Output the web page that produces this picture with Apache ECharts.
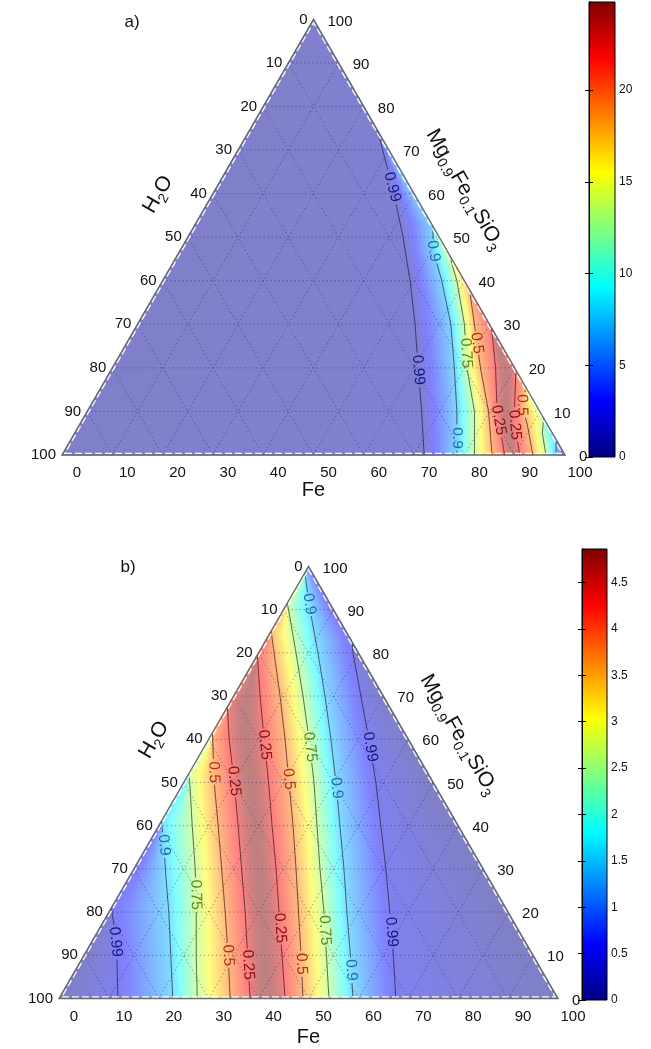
<!DOCTYPE html>
<html>
<head>
<meta charset="utf-8">
<title>Ternary contour maps</title>
<script src="https://cdn.jsdelivr.net/npm/echarts@6.0.0/dist/echarts.min.js"></script>
<style>
  html, body { margin: 0; padding: 0; background: #ffffff; }
  #chart { width: 651px; height: 1049px; }
</style>
</head>
<body>
<div id="chart"></div>
<script>
// ---------------- data ----------------
// ternary axis ticks in %, used on all three sides
const TERN_TICKS = [0, 10, 20, 30, 40, 50, 60, 70, 80, 90, 100];

// panel a) contour lines, points as [Fe %, Mg0.9Fe0.1SiO3 %]
const A_099  = [[72, 0], [66.5, 10], [60.8, 20], [55.2, 30], [49.2, 40], [42.8, 50], [36, 60], [30.2, 68], [25.5, 74.5]];
const A_090L = [[78.5, 0], [73.5, 10], [68, 20], [62.3, 30], [55.5, 40], [50.3, 47], [47.5, 52.5]];
const A_075L = [[82, 0], [77, 10], [70.5, 20], [65, 30], [58.5, 40], [54, 46]];
const A_050L = [[85.5, 0], [79.8, 10], [73.2, 20], [67, 30], [62, 38]];
const A_025L = [[88, 0], [81.5, 10], [76.2, 20], [70.8, 29.2]];
const A_025R = [[91, 0], [86.5, 7], [84, 12], [80.5, 19.5]];
const A_050R = [[93.6, 0], [89, 7], [85.7, 11.5], [84.5, 15.5]];
const A_075R = [[96.2, 0], [93, 5], [91.5, 8.5]];
const A_090R = [[98.2, 0], [96.5, 3.5]];

// panel b) contour lines, points as [Fe %, Mg0.9Fe0.1SiO3 %]
const B_099L = [[11.8, 0], [6.6, 10], [2.5, 17], [0, 21]];
const B_090L = [[22.8, 0], [17.4, 10], [12, 20], [6.3, 30], [3.3, 35.5], [0, 41]];
const B_075L = [[27.7, 0], [22.5, 10], [17.5, 20], [12.3, 30], [6.7, 40], [1.2, 50], [0, 52]];
const B_050L = [[34.3, 0], [28.9, 10], [23.3, 20], [17.6, 30], [11.9, 40], [6.1, 50], [0.8, 60], [0, 61.5]];
const B_025L = [[38.3, 0], [32.8, 10], [27.3, 20], [21.6, 30], [15.9, 40], [10.1, 50], [4.1, 60], [0, 67.5]];
const B_025R = [[45.3, 0], [39.7, 10], [34.1, 20], [28.5, 30], [22.7, 40], [17, 50], [11.1, 60], [5.3, 70], [0, 79.5]];
const B_050R = [[48.9, 0], [43.5, 10], [38, 20], [32.5, 30], [26.9, 40], [21.1, 50], [15.3, 60], [9.3, 70], [3.1, 80], [0, 85]];
const B_075R = [[54.1, 0], [48.6, 10], [43.1, 20], [37.3, 30], [31.7, 40], [26.1, 50], [20.1, 60], [13.9, 70], [7.5, 80], [1, 90], [0, 91.5]];
const B_090R = [[58.9, 0], [53.4, 10], [47.7, 20], [42.1, 30], [36.3, 40], [30.5, 50], [24.5, 60], [18.3, 70], [11.9, 80], [5.3, 90], [0, 98.5]];
const B_099R = [[67.5, 0], [62, 10], [56.3, 20], [50.5, 30], [44.5, 40], [38.5, 50], [32.1, 60], [25.5, 70], [18.9, 80], [17.5, 82.5]];

// colour-scale value: far field, on the 0.99 / 0.9 / 0.75 / 0.5 / 0.25 contours, on the ridge
const A_SHADE = [0.5, 0.9, 7.2, 13.2, 18.8, 21.8, 24.7];
const B_SHADE = [0.05, 0.45, 1.5, 2.6, 3.7, 4.3, 4.85];

// colour bars
const A_BAR_MAX = 24.8;
const A_BAR_STEP = 5;
const B_BAR_MAX = 4.86;
const B_BAR_STEP = 0.5;

// ---------------- drawing ----------------
const SQ = Math.sqrt(3) / 2;
const FONT = '"Liberation Sans", Arial, Helvetica, sans-serif';
const TICK_FS = 15;
const CLABEL_FS = 15.5;
const TITLE_FS = 20;

const LINE_COL = { '0.99': '#262652', '0.9': '#22404f', '0.75': '#3b4222', '0.5': '#4e2a1e', '0.25': '#4a2020' };
const CLABEL_COL = { '0.99': '#14148a', '0.9': '#1874aa', '0.75': '#64881a', '0.5': '#b5320f', '0.25': '#8c0f0f' };

// contour lines in drawing order, with the positions (Mg %) of their inline labels
const A_LINES = [
  { pts: A_099, level: 0.99, at: [19.5, 61.5] },
  { pts: A_090L, level: 0.9, at: [3.9, 46.8] },
  { pts: A_075L, level: 0.75, at: [23.4] },
  { pts: A_050L, level: 0.5, at: [25.7] },
  { pts: A_025L, level: 0.25, at: [8] },
  { pts: A_025R, level: 0.25, at: [6.9] },
  { pts: A_050R, level: 0.5, at: [11.5] },
  { pts: A_075R, level: 0.75, at: [] },
  { pts: A_090R, level: 0.9, at: [] }
];
const B_LINES = [
  { pts: B_099L, level: 0.99, at: [13.1] },
  { pts: B_090L, level: 0.9, at: [35.5] },
  { pts: B_075L, level: 0.75, at: [24] },
  { pts: B_050L, level: 0.5, at: [10, 52.4] },
  { pts: B_025L, level: 0.25, at: [7.8, 50.3] },
  { pts: B_025R, level: 0.25, at: [16.3, 58.7] },
  { pts: B_050R, level: 0.5, at: [8, 50.8] },
  { pts: B_075R, level: 0.75, at: [15.8, 58.2] },
  { pts: B_090R, level: 0.9, at: [6.6, 48.7, 91.3] },
  { pts: B_099R, level: 0.99, at: [15.4, 58.2] }
];

// shading boundaries from the H2O edge to the Fe edge; v = index into the shade array
const A_BOUNDS = [
  { side: 'L', v: 0 },
  { pts: A_099, exit: 'R', v: 1 }, { pts: A_090L, exit: 'R', v: 2 }, { pts: A_075L, exit: 'R', v: 3 },
  { pts: A_050L, exit: 'R', v: 4 }, { pts: A_025L, exit: 'R', v: 5 }, { pts: A_025R, exit: 'R', v: 5 },
  { pts: A_050R, exit: 'R', v: 4 }, { pts: A_075R, exit: 'R', v: 3 }, { pts: A_090R, exit: 'R', v: 2 },
  { side: 'R', v: 0 }
];
const B_BOUNDS = [
  { side: 'L', v: 0 },
  { pts: B_099L, exit: 'L', v: 1 }, { pts: B_090L, exit: 'L', v: 2 }, { pts: B_075L, exit: 'L', v: 3 },
  { pts: B_050L, exit: 'L', v: 4 }, { pts: B_025L, exit: 'L', v: 5 }, { pts: B_025R, exit: 'L', v: 5 },
  { pts: B_050R, exit: 'L', v: 4 }, { pts: B_075R, exit: 'L', v: 3 }, { pts: B_090R, exit: 'L', v: 2 },
  { pts: B_099R, exit: 'R', v: 1 },
  { side: 'R', v: 0 }
];

const measureCtx = document.createElement('canvas').getContext('2d');
function textWidth(str, size) {
  measureCtx.font = size + 'px ' + FONT;
  return measureCtx.measureText(str).width;
}

function jet(t) {
  t = Math.max(0, Math.min(1, t));
  const c = x => Math.max(0, Math.min(1, x));
  return [c(Math.min(4 * t - 1.5, -4 * t + 4.5)), c(Math.min(4 * t - 0.5, -4 * t + 3.5)), c(Math.min(4 * t + 0.5, -4 * t + 2.5))];
}
// colour laid over white with the given opacity
function rgb(col, a) {
  const m = v => Math.round(255 * (v * a + (1 - a)));
  return 'rgb(' + m(col[0]) + ',' + m(col[1]) + ',' + m(col[2]) + ')';
}

// ternary point -> pixel, through the cartesian axes of the panel
function projector(api) {
  return (fe, mg) => api.coord([fe + mg / 2, mg * SQ]);
}

function feOnLine(pts, mg) {
  for (let i = 0; i < pts.length - 1; i++) {
    const p = pts[i], q = pts[i + 1];
    if (mg >= p[1] && mg <= q[1]) {
      const t = q[1] === p[1] ? 0 : (mg - p[1]) / (q[1] - p[1]);
      return p[0] + t * (q[0] - p[0]);
    }
  }
  return null;
}

function boundaryFe(b, mg) {
  const top = 100 - mg;
  if (b.side === 'L') return 0;
  if (b.side === 'R') return top;
  const fe = feOnLine(b.pts, mg);
  if (fe === null) return b.exit === 'L' ? 0 : top;
  return Math.max(0, Math.min(top, fe));
}

function foot(p, a, b) {
  const dx = b[0] - a[0], dy = b[1] - a[1];
  const L = dx * dx + dy * dy;
  if (L < 1e-9) return a;
  const s = ((p[0] - a[0]) * dx + (p[1] - a[1]) * dy) / L;
  return [a[0] + s * dx, a[1] + s * dy];
}
function area2(a, b, c) {
  return Math.abs((b[0] - a[0]) * (c[1] - a[1]) - (b[1] - a[1]) * (c[0] - a[0]));
}

function bandStops(v0, v1, peak, vmax) {
  const out = [];
  for (let i = 0; i <= 10; i++) {
    const t = i / 10;
    const v = peak == null ? v0 + (v1 - v0) * t : v0 + (peak - v0) * (1 - Math.pow(2 * t - 1, 2));
    out.push({ offset: t, color: rgb(jet(v / vmax), 0.5) });
  }
  return out;
}

// shaded field: strips between neighbouring contours, split into triangles with linear gradients
function fieldRenderer(bounds, shade, vmax) {
  return function (params, api) {
    const P = projector(api);
    const rows = [];
    for (let mg = 0; mg <= 100; mg += 1) {
      const fes = bounds.map(b => boundaryFe(b, mg));
      for (let j = 1; j < fes.length; j++) if (fes[j] < fes[j - 1]) fes[j] = fes[j - 1];
      rows.push(fes.map(fe => P(fe, mg)));
    }
    const stops = [];
    for (let j = 0; j < bounds.length - 1; j++) {
      const a = bounds[j].v, b = bounds[j + 1].v;
      stops.push(bandStops(shade[a], shade[b], a === b ? shade[shade.length - 1] : null, vmax));
    }
    const ch = [];
    // base layer so that hairline joins between cells never show white
    ch.push({ type: 'polygon', shape: { points: [P(0, 0), P(100, 0), P(0, 100)] },
      style: { fill: rgb(jet(shade[0] / vmax), 0.5) } });
    const grad = (p, q, s) => ({ type: 'linear', x: p[0], y: p[1], x2: q[0], y2: q[1], colorStops: s, global: true });
    for (let k = 0; k < rows.length - 1; k++) {
      for (let j = 0; j < bounds.length - 1; j++) {
        const A = rows[k][j], B = rows[k + 1][j], C = rows[k][j + 1], D = rows[k + 1][j + 1];
        if (area2(A, B, C) > 0.02) {
          const F = foot(C, A, B);
          const g = grad(F, C, stops[j]);
          ch.push({ type: 'polygon', shape: { points: [A, B, C] }, style: { fill: g, stroke: g, lineWidth: 1.1, lineJoin: 'round' } });
        }
        if (area2(B, C, D) > 0.02) {
          const G = foot(B, C, D);
          const g = grad(B, G, stops[j]);
          ch.push({ type: 'polygon', shape: { points: [B, C, D] }, style: { fill: g, stroke: g, lineWidth: 1.1, lineJoin: 'round' } });
        }
      }
    }
    return { type: 'group', children: ch };
  };
}

// dotted ternary grid every 10 %
function gridRenderer(params, api) {
  const P = projector(api);
  const ch = [];
  TERN_TICKS.forEach(v => {
    if (v === 0 || v === 100) return;
    [[P(0, v), P(100 - v, v)], [P(v, 0), P(v, 100 - v)], [P(100 - v, 0), P(0, 100 - v)]].forEach(s => {
      ch.push({ type: 'line', shape: { x1: s[0][0], y1: s[0][1], x2: s[1][0], y2: s[1][1] },
        style: { stroke: 'rgba(35,35,100,0.5)', lineWidth: 1, lineDash: [1.2, 2.8] } });
    });
  });
  return { type: 'group', children: ch };
}

// contour lines with inline labels
function contourRenderer(lines) {
  return function (params, api) {
    const P = projector(api);
    const ch = [];
    lines.forEach(L => {
      const key = String(L.level);
      const dense = [];
      for (let i = 0; i < L.pts.length - 1; i++) {
        const p = L.pts[i], q = L.pts[i + 1];
        const n = Math.max(1, Math.ceil(Math.abs(q[1] - p[1]) / 0.5));
        for (let s = (i === 0 ? 0 : 1); s <= n; s++) {
          const t = s / n;
          dense.push(P(p[0] + t * (q[0] - p[0]), p[1] + t * (q[1] - p[1])));
        }
      }
      const w = textWidth(key, CLABEL_FS);
      const gap = w / 2 + 2;
      const m0 = L.pts[0][1], m1 = L.pts[L.pts.length - 1][1];
      const labels = L.at.map(mg => {
        const c = P(feOnLine(L.pts, mg), mg);
        const lo = Math.max(m0, mg - 1.5), hi = Math.min(m1, mg + 1.5);
        const a = P(feOnLine(L.pts, lo), lo), b = P(feOnLine(L.pts, hi), hi);
        let dx = b[0] - a[0], dy = b[1] - a[1];
        if (dy < 0) { dx = -dx; dy = -dy; }
        return { c, rot: Math.atan2(-dy, dx) };
      });
      let run = [];
      const flush = () => {
        if (run.length > 1) ch.push({ type: 'polyline', shape: { points: run },
          style: { fill: 'none', stroke: LINE_COL[key], lineWidth: 0.9, opacity: 0.9 } });
        run = [];
      };
      for (let i = 0; i < dense.length - 1; i++) {
        const a = dense[i], b = dense[i + 1];
        const mx = (a[0] + b[0]) / 2, my = (a[1] + b[1]) / 2;
        const hidden = labels.some(l => Math.hypot(mx - l.c[0], my - l.c[1]) < gap);
        if (hidden) { flush(); continue; }
        if (run.length === 0) run.push(a);
        run.push(b);
      }
      flush();
      labels.forEach(l => {
        ch.push({ type: 'text', x: l.c[0], y: l.c[1], rotation: l.rot,
          style: { text: key, fill: CLABEL_COL[key], fontSize: CLABEL_FS, fontFamily: FONT, align: 'center', verticalAlign: 'middle' } });
      });
    });
    return { type: 'group', children: ch };
  };
}

// text built from main and subscript pieces, centred on its anchor
function formula(parts, x, y, rotation, fs) {
  const sfs = Math.round(fs * 0.68);
  let cursor = 0;
  const kids = parts.map(p => {
    const size = p[1] ? sfs : fs;
    const el = { type: 'text', x: cursor, y: p[1] ? fs * 0.33 : 0,
      style: { text: p[0], fontSize: size, fontFamily: FONT, fill: '#111', align: 'left', verticalAlign: 'middle' } };
    cursor += textWidth(p[0], size);
    return el;
  });
  kids.forEach(k => { k.x -= cursor / 2; });
  return { type: 'group', x, y, rotation, children: kids };
}

function tickText(str, x, y, align) {
  return { type: 'text', x, y, style: { text: str, fontSize: TICK_FS, fontFamily: FONT, fill: '#111', align, verticalAlign: 'middle' } };
}

// triangle frame, tick labels and axis titles
function frameRenderer(feTitleGap) {
  return function (params, api) {
    const P = projector(api);
    const ch = [];
    const L = P(0, 0), R = P(100, 0), T = P(0, 100);
    ch.push({ type: 'polygon', shape: { points: [L, R, T] }, style: { fill: 'none', stroke: '#6b6b6b', lineWidth: 1.3 } });
    const cx = (L[0] + R[0] + T[0]) / 3, cy = (L[1] + R[1] + T[1]) / 3;
    const k = 1 - 1.7 / ((L[1] - T[1]) / 3);
    const inset = [L, R, T].map(q => [cx + (q[0] - cx) * k, cy + (q[1] - cy) * k]);
    ch.push({ type: 'polygon', shape: { points: inset }, style: { fill: 'none', stroke: 'rgba(255,255,255,0.95)', lineWidth: 1.3, lineDash: [7, 3] } });
    TERN_TICKS.forEach(v => {
      const l = P(0, 100 - v), r = P(100 - v, v), b = P(v, 0);
      ch.push(tickText(String(v), l[0] - 6, l[1], 'right'));
      ch.push(tickText(String(v), r[0] + 14, r[1] + 2, 'left'));
      ch.push(tickText(String(v), b[0] + 15, b[1] + 18, 'center'));
    });
    const h = P(0, 54.4);
    ch.push(formula([['H', 0], ['2', 1], ['O', 0]], h[0] - 0.866 * 47, h[1] - 0.5 * 47, Math.PI / 3, TITLE_FS + 1));
    const m = P(44.3, 55.7);
    ch.push(formula([['Mg', 0], ['0.9', 1], ['Fe', 0], ['0.1', 1], ['SiO', 0], ['3', 1]],
      m[0] + 0.866 * 46, m[1] - 0.5 * 46, -Math.PI / 3, TITLE_FS + 1));
    const f = P(50, 0);
    ch.push(formula([['Fe', 0]], f[0], f[1] + feTitleGap, 0, TITLE_FS));
    return { type: 'group', children: ch };
  };
}

// colour bar strip
function barRenderer(vmax) {
  return function (params, api) {
    const p0 = api.coord([0, 0]), p1 = api.coord([1, vmax]);
    const stops = [];
    for (let i = 0; i <= 40; i++) stops.push({ offset: i / 40, color: rgb(jet(1 - i / 40), 1) });
    return { type: 'rect', shape: { x: p0[0], y: p1[1], width: p1[0] - p0[0], height: p0[1] - p1[1] },
      style: { fill: { type: 'linear', x: 0, y: 0, x2: 0, y2: 1, colorStops: stops }, stroke: '#000', lineWidth: 1 } };
  };
}

function barAxes(gi, max, step) {
  const common = {
    gridIndex: gi, type: 'value', min: 0, max: max, interval: step, z: 10,
    splitLine: { show: false },
    axisLine: { show: true, lineStyle: { color: '#000', width: 1 } },
    axisTick: { show: true, inside: true, length: 4, lineStyle: { color: '#000', width: 1 } }
  };
  return [
    Object.assign({}, common, { position: 'right',
      axisLabel: { show: true, margin: 4, color: '#111', fontSize: 12, fontFamily: FONT, showMaxLabel: false } }),
    Object.assign({}, common, { position: 'left', axisLabel: { show: false } })
  ];
}

const ternX = gi => ({ gridIndex: gi, type: 'value', min: 0, max: 100, show: false });
const ternY = gi => ({ gridIndex: gi, type: 'value', min: 0, max: 100 * SQ, show: false });
const custom = (xi, yi, z, renderItem) => ({
  type: 'custom', coordinateSystem: 'cartesian2d', xAxisIndex: xi, yAxisIndex: yi,
  data: [[0, 0]], renderItem, silent: true, z, animation: false, clip: false
});

const option = {
  animation: false,
  grid: [
    { left: 62, top: 19.4, width: 503, height: 435.6 },
    { left: 59, top: 566.4, width: 499, height: 432.1 },
    { left: 589, top: 2, width: 26, height: 455 },
    { left: 582, top: 549, width: 25, height: 451 }
  ],
  xAxis: [ternX(0), ternX(1),
    { gridIndex: 2, type: 'value', min: 0, max: 1, show: false },
    { gridIndex: 3, type: 'value', min: 0, max: 1, show: false }],
  yAxis: [ternY(0), ternY(1)].concat(barAxes(2, A_BAR_MAX, A_BAR_STEP), barAxes(3, B_BAR_MAX, B_BAR_STEP)),
  graphic: [
    { type: 'text', x: 132, y: 22, style: { text: 'a)', fontSize: 17, fontFamily: FONT, fill: '#111', align: 'center', verticalAlign: 'middle' } },
    { type: 'text', x: 128, y: 567, style: { text: 'b)', fontSize: 17, fontFamily: FONT, fill: '#111', align: 'center', verticalAlign: 'middle' } }
  ],
  series: [
    custom(0, 0, 1, fieldRenderer(A_BOUNDS, A_SHADE, A_BAR_MAX)),
    custom(0, 0, 2, gridRenderer),
    custom(0, 0, 3, contourRenderer(A_LINES)),
    custom(0, 0, 4, frameRenderer(35)),
    custom(1, 1, 1, fieldRenderer(B_BOUNDS, B_SHADE, B_BAR_MAX)),
    custom(1, 1, 2, gridRenderer),
    custom(1, 1, 3, contourRenderer(B_LINES)),
    custom(1, 1, 4, frameRenderer(39)),
    custom(2, 2, 5, barRenderer(A_BAR_MAX)),
    custom(3, 4, 5, barRenderer(B_BAR_MAX))
  ]
};

const chart = echarts.init(document.getElementById('chart'), null, { renderer: 'canvas' });
chart.setOption(option);
</script>
</body>
</html>
